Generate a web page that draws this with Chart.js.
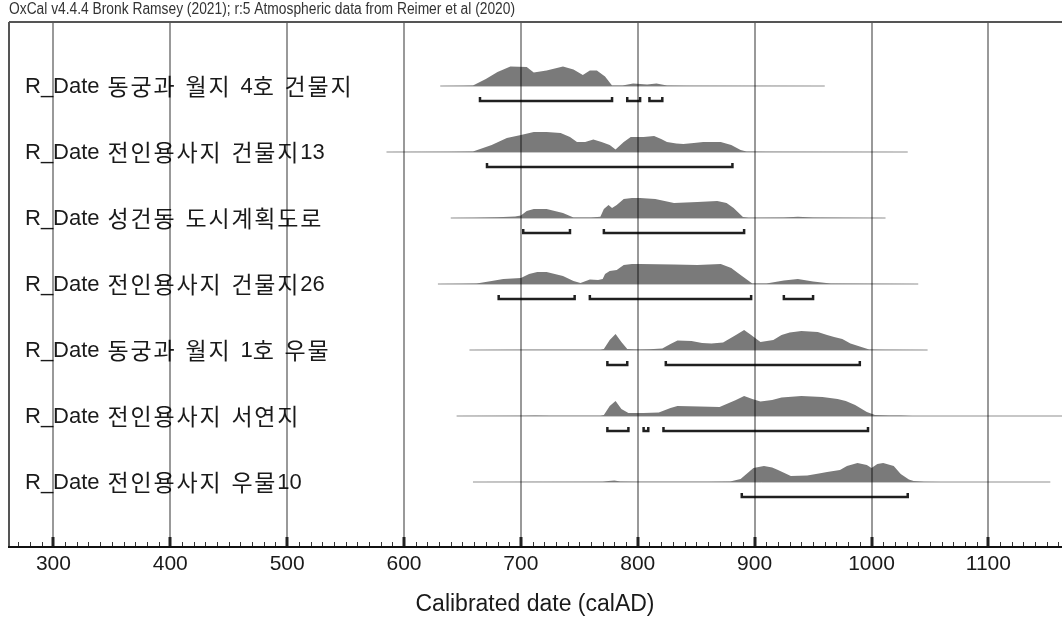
<!DOCTYPE html>
<html>
<head>
<meta charset="utf-8">
<script src="https://cdn.jsdelivr.net/npm/chart.js@4.4.1/dist/chart.umd.min.js"></script>
<style>
  html, body { margin: 0; padding: 0; background: #fff; overflow: hidden; }
</style>
</head>
<body>
<canvas id="oxcal" width="1062" height="623"></canvas>
<script>
// OxCal multiplot: calibrated R_Date distributions with 95.4% ranges
const header = 'OxCal v4.4.4 Bronk Ramsey (2021); r:5 Atmospheric data from Reimer et al (2020)';
const axisTitle = 'Calibrated date (calAD)';
const tickYears = [300, 400, 500, 600, 700, 800, 900, 1000, 1100];

const sampleNames = [
  'R_Date 동궁과 월지 4호 건물지',
  'R_Date 전인용사지 건물지13',
  'R_Date 성건동 도시계획도로',
  'R_Date 전인용사지 건물지26',
  'R_Date 동궁과 월지 1호 우물',
  'R_Date 전인용사지 서연지',
  'R_Date 전인용사지 우물10'
];

// extent of each calibrated curve (calAD)
const curveSpans = [[631, 960], [585, 1031], [640, 1012], [629, 1040], [656, 1048], [645, 1170], [659, 1153]];

// relative probability, [calAD, p] with p = 1 at the tallest peak
const probA = [[631,0],[650,0.01],[659,0.03],[670,0.35],[680,0.7],[691,0.97],[705,0.95],[711,0.67],[722,0.77],[736,0.97],[745,0.83],[753,0.55],[759,0.77],[765,0.77],[772,0.47],[778,0.02],[787,0.02],[796,0.13],[808,0.07],[816,0.13],[825,0.03],[842,0.01],[960,0]];
const probB = [[585,0],[640,0.01],[659,0.03],[675,0.35],[688,0.7],[700,0.85],[711,1.0],[722,1.0],[734,0.95],[742,0.75],[748,0.5],[755,0.5],[762,0.62],[769,0.5],[776,0.35],[781,0.12],[788,0.5],[794,0.75],[805,0.75],[814,0.8],[820,0.65],[825,0.5],[833,0.42],[839,0.4],[848,0.45],[856,0.5],[871,0.5],[880,0.35],[888,0.1],[893,0.02],[910,0.01],[1031,0]];
const probC = [[640,0],[660,0.01],[680,0.04],[695,0.08],[700,0.12],[705,0.35],[711,0.45],[722,0.45],[736,0.25],[745,0.03],[760,0.03],[768,0.06],[771,0.45],[775,0.65],[778,0.5],[782,0.65],[788,0.95],[795,1.0],[802,1.0],[815,0.95],[831,0.75],[851,0.8],[868,0.85],[876,0.75],[882,0.5],[890,0.05],[895,0.01],[925,0.02],[937,0.06],[950,0.02],[1012,0]];
const probD = [[629,0],[650,0.01],[662,0.03],[675,0.15],[685,0.25],[700,0.3],[707,0.5],[714,0.6],[722,0.6],[736,0.4],[745,0.15],[751,0.05],[759,0.22],[766,0.2],[770,0.25],[772,0.5],[776,0.65],[782,0.7],[788,0.95],[795,1.0],[802,1.0],[831,0.98],[851,0.95],[871,1.0],[880,0.8],[888,0.45],[898,0.02],[910,0.02],[925,0.18],[937,0.25],[950,0.12],[965,0.03],[1040,0]];
const probE = [[656,0],[700,0.01],[768,0.01],[771,0.05],[776,0.5],[781,0.8],[786,0.4],[791,0.05],[800,0.03],[810,0.04],[821,0.08],[828,0.3],[834,0.48],[846,0.45],[855,0.35],[863,0.32],[873,0.38],[884,0.75],[891,1.0],[897,0.75],[905,0.4],[916,0.5],[923,0.75],[930,0.88],[940,0.95],[954,0.9],[962,0.75],[968,0.65],[975,0.55],[982,0.32],[990,0.18],[998,0.03],[1010,0.01],[1048,0]];
const probF = [[645,0],[700,0.01],[712,0.03],[725,0.01],[768,0.01],[771,0.05],[776,0.5],[781,0.75],[786,0.35],[792,0.15],[805,0.15],[818,0.17],[828,0.4],[834,0.5],[853,0.48],[870,0.45],[884,0.8],[891,1.0],[898,0.85],[905,0.72],[915,0.8],[923,0.92],[940,1.0],[958,0.95],[971,0.85],[978,0.75],[986,0.55],[996,0.2],[1003,0.05],[1015,0.03],[1025,0.02],[1035,0.005],[1170,0]];
const probG = [[659,0],[770,0.01],[775,0.05],[780,0.08],[785,0.03],[800,0.01],[860,0.01],[879,0.03],[888,0.15],[895,0.5],[899,0.7],[908,0.8],[915,0.72],[920,0.6],[931,0.3],[945,0.32],[955,0.42],[962,0.5],[973,0.6],[979,0.8],[988,0.95],[996,0.85],[1000,0.7],[1005,0.9],[1010,0.95],[1019,0.8],[1025,0.4],[1032,0.12],[1036,0.05],[1045,0.015],[1060,0.005],[1153,0]];
const probs = [probA, probB, probC, probD, probE, probF, probG];

// 95.4% probability ranges (calAD)
const rangesA = [[665, 778], [791, 802], [810, 821]];
const rangesB = [[671, 881]];
const rangesC = [[702, 742], [771, 891]];
const rangesD = [[681, 746], [759, 897], [925, 950]];
const rangesE = [[774, 791], [824, 990]];
const rangesF = [[774, 792], [805, 809], [822, 997]];
const rangesG = [[889, 1031]];
const ranges = [rangesA, rangesB, rangesC, rangesD, rangesE, rangesF, rangesG];

// vertical layout in row units (one row = 66px)
const ROW_PX = 66;
const PEAK = 20 / ROW_PX;
const BRACKET_OFF = 15 / ROW_PX;
const BRACKET_TICK = 4 / ROW_PX;

const datasets = [];
probs.forEach((p, k) => {
  datasets.push({
    data: p.map(([x, v]) => ({ x, y: k - v * PEAK })),
    fill: { value: k },
    backgroundColor: '#7a7a7a',
    borderWidth: 0,
    pointRadius: 0
  });
  datasets.push({
    data: curveSpans[k].map(x => ({ x, y: k })),
    borderColor: '#8f8f8f',
    borderWidth: 1,
    pointRadius: 0,
    fill: false
  });
  ranges[k].forEach(([a, b]) => {
    const yb = k + BRACKET_OFF;
    datasets.push({
      data: [{ x: a, y: yb - BRACKET_TICK }, { x: a, y: yb }, { x: b, y: yb }, { x: b, y: yb - BRACKET_TICK }],
      borderColor: '#202020',
      borderWidth: 2.5,
      pointRadius: 0,
      fill: false
    });
  });
});

const LATIN_FONT = '22px "Liberation Sans", sans-serif';
const HANGUL_FONT = '23px "Noto Sans CJK KR", sans-serif';
const isHangul = ch => /[\u1100-\u11ff\u3130-\u318f\uac00-\ud7af]/.test(ch);

// Latin and Hangul come from different faces, so the name is set glyph by glyph
function drawName(ctx, text, x, y) {
  let first = true;
  for (const ch of text) {
    if (ch === ' ') { x += first ? 8 : 9; first = false; continue; }
    const hangul = isHangul(ch);
    ctx.font = hangul ? HANGUL_FONT : LATIN_FONT;
    ctx.fillText(ch, x, hangul ? y - 1 : y);
    x += ctx.measureText(ch).width + (hangul ? 1.8 : 0);
  }
}

const frame = {
  id: 'frame',
  beforeDatasetsDraw(chart) {
    const { ctx, scales: { y } } = chart;
    ctx.save();
    ctx.fillStyle = '#1a1a1a';
    ctx.textBaseline = 'middle';
    sampleNames.forEach((name, k) => drawName(ctx, name, 25, y.getPixelForValue(k) + 1));
    ctx.restore();
  },
  afterDatasetsDraw(chart) {
    const { ctx, chartArea: a, scales: { x } } = chart;
    ctx.save();
    // century grid lines
    ctx.strokeStyle = 'rgba(0,0,0,0.4)';
    ctx.lineWidth = 2;
    tickYears.forEach(t => {
      const px = Math.round(x.getPixelForValue(t));
      ctx.beginPath(); ctx.moveTo(px, a.top); ctx.lineTo(px, a.bottom); ctx.stroke();
    });
    // decade ticks along the date axis
    ctx.strokeStyle = '#333';
    ctx.lineWidth = 1;
    for (let t = 270; t <= 1160; t += 10) {
      if (t % 100 === 0) continue;
      const px = Math.round(x.getPixelForValue(t)) + 0.5;
      ctx.beginPath(); ctx.moveTo(px, a.bottom); ctx.lineTo(px, a.bottom - 5); ctx.stroke();
    }
    ctx.strokeStyle = '#222';
    ctx.lineWidth = 3;
    tickYears.forEach(t => {
      const px = Math.round(x.getPixelForValue(t));
      ctx.beginPath(); ctx.moveTo(px, a.bottom); ctx.lineTo(px, a.bottom - 10); ctx.stroke();
    });
    // frame: top, left, axis line
    ctx.strokeStyle = '#555';
    ctx.lineWidth = 2;
    ctx.beginPath(); ctx.moveTo(a.left, a.top); ctx.lineTo(a.right, a.top); ctx.stroke();
    ctx.beginPath(); ctx.moveTo(a.left, a.top); ctx.lineTo(a.left, a.bottom); ctx.stroke();
    ctx.strokeStyle = '#111';
    ctx.beginPath(); ctx.moveTo(a.left - 1, a.bottom); ctx.lineTo(a.right, a.bottom); ctx.stroke();

    // tick labels and axis title
    ctx.fillStyle = '#1a1a1a';
    ctx.textAlign = 'center';
    ctx.textBaseline = 'middle';
    ctx.font = '21px "Liberation Sans", sans-serif';
    tickYears.forEach(t => ctx.fillText(String(t), x.getPixelForValue(t), 564));
    ctx.font = '23px "Liberation Sans", sans-serif';
    ctx.fillText(axisTitle, 535, 605);

    // condensed header line
    ctx.font = '16px "Liberation Sans", sans-serif';
    ctx.textAlign = 'left';
    const w = ctx.measureText(header).width;
    ctx.translate(9, 10);
    ctx.scale(506 / w, 1);
    ctx.fillStyle = '#333';
    ctx.fillText(header, 0, 0);
    ctx.restore();
  }
};

new Chart(document.getElementById('oxcal'), {
  type: 'line',
  data: { datasets },
  options: {
    responsive: false,
    animation: false,
    devicePixelRatio: 1,
    layout: { padding: { left: 9, top: 22, right: 0, bottom: 76 } },
    plugins: { legend: { display: false }, tooltip: { enabled: false } },
    scales: {
      x: { type: 'linear', min: 262, max: 1163, display: false },
      y: { type: 'linear', min: -64 / ROW_PX, max: -64 / ROW_PX + 525 / ROW_PX, reverse: true, display: false }
    }
  },
  plugins: [frame]
});
</script>
</body>
</html>
